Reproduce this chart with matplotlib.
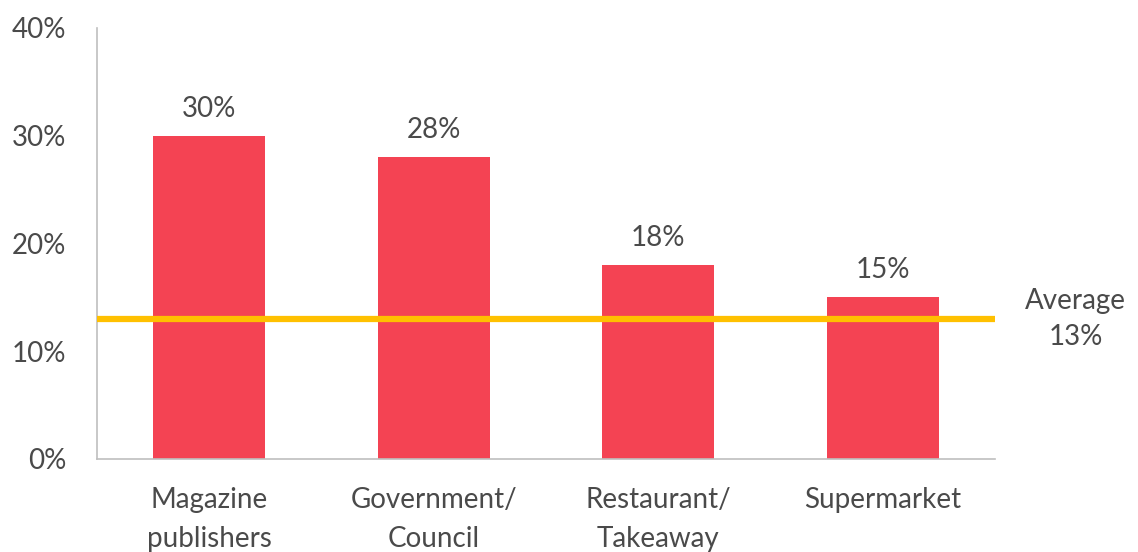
import numpy as np
import matplotlib.pyplot as plt

# data
categories = ['Magazine\npublishers', 'Government/\nCouncil', 'Restaurant/\nTakeaway', 'Supermarket']
values = [30, 28, 18, 15]
average = 13
yticks = [0, 10, 20, 30, 40]

bar_color = '#F44353'
avg_color = '#FFC000'
text_color = '#4A4A4A'

plt.rcParams['font.family'] = ['Lato', 'DejaVu Sans']

fig = plt.figure(figsize=(11.38, 5.52), dpi=100)
ax = fig.add_axes([0.0852, 0.1685, 0.7891, 0.7808])

x = np.arange(len(categories))
ax.bar(x, values, width=0.5, color=bar_color, zorder=2)

# labels above bars
for xi, v in zip(x, values):
    ax.text(xi, v + 1.3, '%d%%' % v, ha='center', va='bottom', fontsize=20, color=text_color)

# average line
ax.axhline(average, color=avg_color, lw=4.5, zorder=3)
ax.text(1.09, average, 'Average\n%d%%' % average, transform=ax.get_yaxis_transform(),
        ha='center', va='center', fontsize=20, color=text_color, linespacing=1.45)

ax.set_xlim(-0.5, 3.5)
ax.set_ylim(0, 40)
ax.set_yticks(yticks)
ax.set_yticklabels(['%d%%' % t for t in yticks])
ax.set_xticks(x)
ax.set_xticklabels(categories, linespacing=1.65)

ax.tick_params(axis='both', length=0, labelsize=20, colors=text_color)
ax.tick_params(axis='y', pad=22)
ax.tick_params(axis='x', pad=20)

for s in ['top', 'right']:
    ax.spines[s].set_visible(False)
for s in ['left', 'bottom']:
    ax.spines[s].set_color('#BFBFBF')
    ax.spines[s].set_linewidth(1.2)

fig.savefig('out.png', dpi=100)
